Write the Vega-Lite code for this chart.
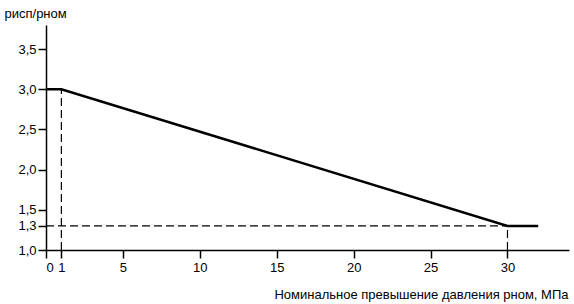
{
  "$schema": "https://vega.github.io/schema/vega-lite/v6.json",
  "autosize": {"type": "none"},
  "width": 523,
  "height": 225,
  "padding": {"left": 46, "top": 25, "right": 5, "bottom": 54},
  "background": "white",
  "config": {
    "view": {"stroke": null},
    "font": "Liberation Sans",
    "locale": {"number": {"decimal": ",", "thousands": " ", "grouping": [3], "currency": ["", ""]}},
    "axis": {
      "grid": false,
      "domainColor": "black",
      "domainWidth": 1.5,
      "tickColor": "black",
      "tickWidth": 1.5,
      "tickSize": 8,
      "labelColor": "black",
      "labelFontSize": 13,
      "labelOverlap": false,
      "labelFont": "Liberation Sans",
      "titleFont": "Liberation Sans",
      "titleFontWeight": "normal",
      "titleColor": "black",
      "titleFontSize": 13
    }
  },
  "layer": [
    {
      "data": {"values": [
        {"x": 0, "y": 1.3, "x2": 30, "y2": 1.3},
        {"x": 1, "y": 1.0, "x2": 1, "y2": 3.0},
        {"x": 30, "y": 1.0, "x2": 30, "y2": 1.3}
      ]},
      "mark": {"type": "rule", "color": "black", "strokeWidth": 1.2, "strokeDash": [8, 4]},
      "encoding": {
        "x": {"field": "x", "type": "quantitative",
          "scale": {"domain": [0, 34], "nice": false, "zero": false},
          "axis": {
            "values": [0, 1, 5, 10, 15, 20, 25, 30],
            "tickCount": 50,
            "format": "d",
            "labelPadding": 3,
            "labelOverlap": false,
            "title": "Номинальное превышение давления pном, МПа",
            "titleAnchor": "end",
            "titleAlign": "right",
            "titleX": 522,
            "titleY": 38
          }
        },
        "x2": {"field": "x2"},
        "y": {"field": "y", "type": "quantitative",
          "scale": {"domain": [1, 3.8], "nice": false, "zero": false},
          "axis": {
            "values": [1, 1.3, 1.5, 2, 2.5, 3, 3.5],
            "tickCount": 50,
            "format": ".1f",
            "labelPadding": 2,
            "labelOverlap": false,
            "title": "pисп/pном",
            "titleAngle": 0,
            "titleAlign": "left",
            "titleBaseline": "alphabetic",
            "titleX": -42,
            "titleY": -8
          }
        },
        "y2": {"field": "y2"}
      }
    },
    {
      "data": {"values": [
        {"x": 0, "y": 3.0},
        {"x": 1, "y": 3.0},
        {"x": 30, "y": 1.3},
        {"x": 32, "y": 1.3}
      ]},
      "mark": {"type": "line", "color": "black", "strokeWidth": 2.5},
      "encoding": {
        "x": {"field": "x", "type": "quantitative"},
        "y": {"field": "y", "type": "quantitative"}
      }
    }
  ]
}
